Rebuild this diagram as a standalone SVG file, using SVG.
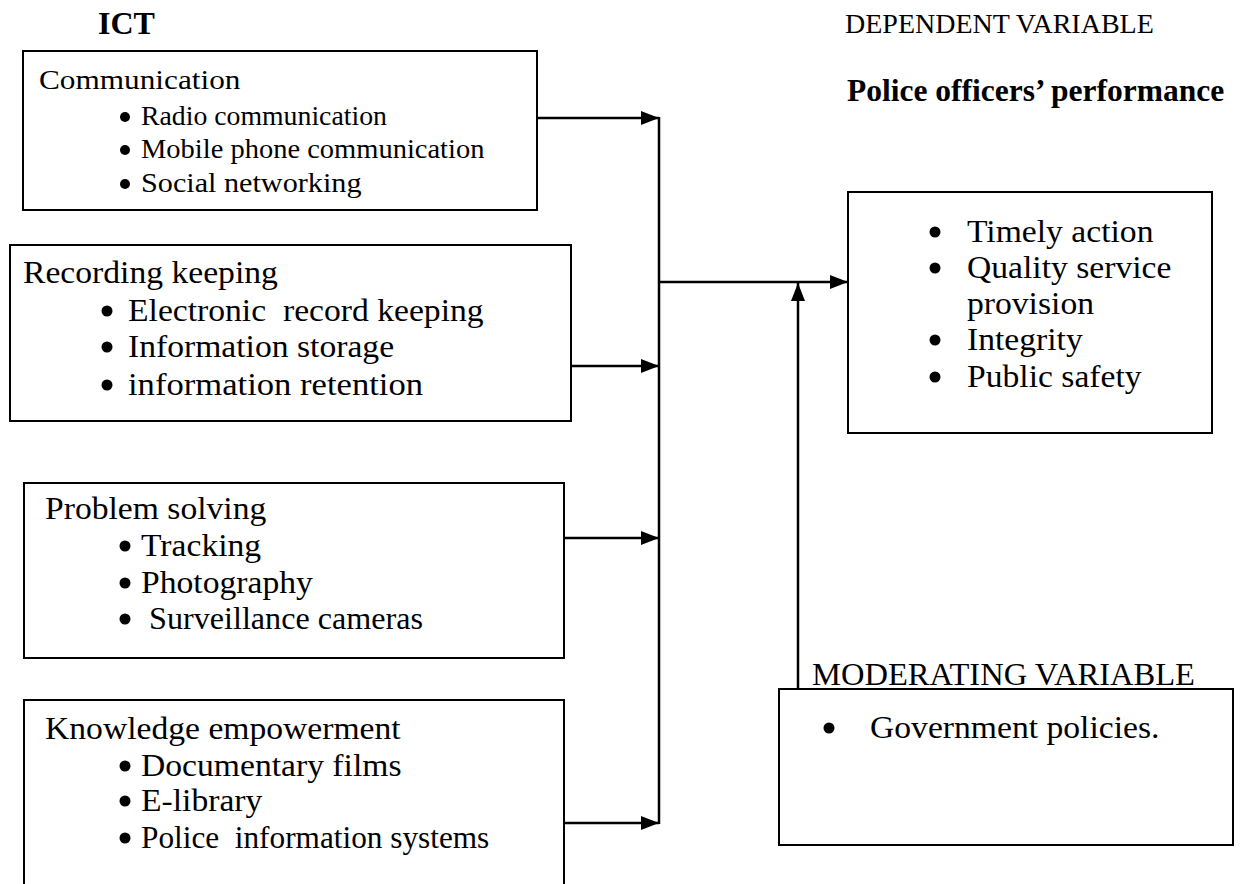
<svg xmlns="http://www.w3.org/2000/svg" width="1257" height="884" viewBox="0 0 1257 884">
  <style>
    .box { fill: #fff; stroke: #000; stroke-width: 2; }
    .head { font-family: "Liberation Serif", "Times New Roman", serif; fill: #000; }
    .bold { font-weight: bold; }
    .t24 { font-family: "Liberation Serif", "Times New Roman", serif; font-size: 27px; fill: #000; }
    .t28 { font-family: "Liberation Serif", "Times New Roman", serif; font-size: 31px; fill: #000; }
    .dot { fill: #000; }
    .link { fill: none; stroke: #000; stroke-width: 2.5; }
  </style>
  <defs>
    <marker id="arrow" markerUnits="userSpaceOnUse" markerWidth="20" markerHeight="14" refX="18" refY="7" orient="auto">
      <path d="M0,0 L18,7 L0,14 z" fill="#000"/>
    </marker>
  </defs>

  <rect width="1257" height="884" fill="#fff"/>

  <!-- column headings -->
  <g id="headings">
    <text class="head bold" x="98" y="34" font-size="32">ICT</text>
    <text class="head" x="845" y="33" font-size="28">DEPENDENT VARIABLE</text>
    <text class="head bold" x="847" y="101" font-size="31.5">Police officers’ performance</text>
  </g>

  <!-- independent variable: communication -->
  <g id="communication">
    <rect class="box" x="23" y="51" width="514" height="159"/>
    <text class="t24" transform="translate(39,89) scale(1.06,1)" textLength="190" lengthAdjust="spacingAndGlyphs">Communication</text>
    <circle class="dot" cx="125" cy="117" r="5"/>
    <text class="t24" transform="translate(141,125) scale(1.06,1)" textLength="232" lengthAdjust="spacingAndGlyphs">Radio communication</text>
    <circle class="dot" cx="125" cy="150" r="5"/>
    <text class="t24" transform="translate(141,158) scale(1.06,1)" textLength="324" lengthAdjust="spacingAndGlyphs">Mobile phone communication</text>
    <circle class="dot" cx="125" cy="184" r="5"/>
    <text class="t24" transform="translate(141,192) scale(1.06,1)" textLength="208" lengthAdjust="spacingAndGlyphs">Social networking</text>
  </g>

  <!-- independent variable: record keeping -->
  <g id="record-keeping">
    <rect class="box" x="10" y="245" width="561" height="176"/>
    <text class="t28" transform="translate(23,283) scale(1.085,1)">Recording keeping</text>
    <circle class="dot" cx="107" cy="311" r="5.5"/>
    <text class="t28" xml:space="preserve" transform="translate(128,321) scale(1.085,1)">Electronic  record keeping</text>
    <circle class="dot" cx="107" cy="347" r="5.5"/>
    <text class="t28" transform="translate(128,357) scale(1.085,1)">Information storage</text>
    <circle class="dot" cx="107" cy="385" r="5.5"/>
    <text class="t28" transform="translate(128,395) scale(1.085,1)" textLength="272" lengthAdjust="spacingAndGlyphs">information retention</text>
  </g>

  <!-- independent variable: problem solving -->
  <g id="problem-solving">
    <rect class="box" x="24" y="483" width="540" height="175"/>
    <text class="t28" transform="translate(45,519) scale(1.085,1)">Problem solving</text>
    <circle class="dot" cx="125" cy="546" r="5.5"/>
    <text class="t28" transform="translate(141,556) scale(1.085,1)">Tracking</text>
    <circle class="dot" cx="125" cy="583" r="5.5"/>
    <text class="t28" transform="translate(141,593) scale(1.085,1)">Photography</text>
    <circle class="dot" cx="125" cy="619" r="5.5"/>
    <text class="t28" xml:space="preserve" transform="translate(141,629) scale(1.085,1)" textLength="260" lengthAdjust="spacingAndGlyphs"> Surveillance cameras</text>
  </g>

  <!-- independent variable: knowledge empowerment -->
  <g id="knowledge-empowerment">
    <rect class="box" x="24" y="700" width="540" height="200"/>
    <text class="t28" transform="translate(45,739) scale(1.085,1)">Knowledge empowerment</text>
    <circle class="dot" cx="125" cy="766" r="5.5"/>
    <text class="t28" transform="translate(141,776) scale(1.085,1)">Documentary films</text>
    <circle class="dot" cx="125" cy="801" r="5.5"/>
    <text class="t28" transform="translate(141,811) scale(1.085,1)">E-library</text>
    <circle class="dot" cx="125" cy="838" r="5.5"/>
    <text class="t28" xml:space="preserve" transform="translate(141,848) scale(1.085,1)" textLength="321" lengthAdjust="spacingAndGlyphs">Police  information systems</text>
  </g>

  <!-- dependent variable -->
  <g id="performance">
    <rect class="box" x="848" y="192" width="364" height="241"/>
    <circle class="dot" cx="935" cy="232" r="5.5"/>
    <text class="t28" transform="translate(967,242) scale(1.085,1)">Timely action</text>
    <circle class="dot" cx="935" cy="268" r="5.5"/>
    <text class="t28" transform="translate(967,278) scale(1.085,1)">Quality service</text>
    <text class="t28" transform="translate(967,314) scale(1.085,1)">provision</text>
    <circle class="dot" cx="935" cy="340" r="5.5"/>
    <text class="t28" transform="translate(967,350) scale(1.085,1)">Integrity</text>
    <circle class="dot" cx="935" cy="377" r="5.5"/>
    <text class="t28" transform="translate(967,387) scale(1.085,1)">Public safety</text>
  </g>

  <!-- moderating variable -->
  <g id="moderating">
    <text class="head" x="812" y="685" font-size="32" textLength="383" lengthAdjust="spacingAndGlyphs">MODERATING VARIABLE</text>
    <rect class="box" x="779" y="689" width="454" height="156"/>
    <circle class="dot" cx="829" cy="728" r="5.5"/>
    <text class="t28" transform="translate(870,738) scale(1.085,1)">Government policies.</text>
  </g>

  <!-- connectors -->
  <g id="connectors">
    <line class="link" x1="537" y1="118" x2="659" y2="118" marker-end="url(#arrow)"/>
    <line class="link" x1="571" y1="366" x2="659" y2="366" marker-end="url(#arrow)"/>
    <line class="link" x1="564" y1="538" x2="659" y2="538" marker-end="url(#arrow)"/>
    <line class="link" x1="564" y1="823" x2="659" y2="823" marker-end="url(#arrow)"/>
    <line class="link" x1="659" y1="117" x2="659" y2="824"/>
    <line class="link" x1="659" y1="282" x2="848" y2="282" marker-end="url(#arrow)"/>
    <line class="link" x1="798" y1="689" x2="798" y2="283" marker-end="url(#arrow)"/>
  </g>
</svg>
